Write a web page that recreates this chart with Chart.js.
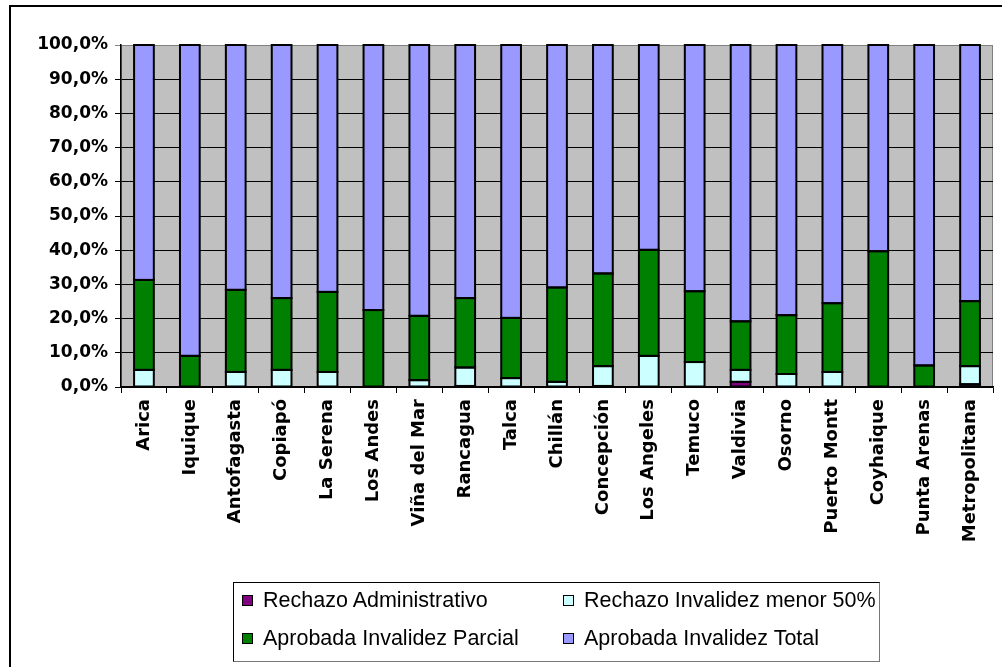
<!DOCTYPE html>
<html>
<head>
<meta charset="utf-8">
<script src="https://cdn.jsdelivr.net/npm/chart.js@4/dist/chart.umd.min.js"></script>
<style>
  html, body { margin: 0; padding: 0; background: #fff; overflow: hidden; width: 1002px; height: 667px; }
  #frame { position: absolute; left: 9px; top: 5px; width: 1100px; height: 800px; border: 2px solid #000; }
  #chart { position: absolute; left: 0; top: 0; }
  #legend {
    position: absolute; left: 233px; top: 582px; width: 645px; height: 78px;
    border: 1px solid #000; border-right-color: #777; border-bottom-color: #777;
    font-family: "Liberation Sans", Arial, sans-serif; font-size: 21.5px; color: #000;
  }
  .item { position: absolute; display: flex; align-items: center; white-space: nowrap; height: 24px; }
  .box { width: 9px; height: 9px; border: 1.5px solid #000; margin-right: 10px; }
</style>
</head>
<body>
<div id="frame"></div>
<canvas id="chart" width="1002" height="667"></canvas>
<div id="legend"></div>
<script>
const categories = ['Arica', 'Iquique', 'Antofagasta', 'Copiapó', 'La Serena', 'Los Andes', 'Viña del Mar',
    'Rancagua', 'Talca', 'Chillán', 'Concepción', 'Los Angeles', 'Temuco', 'Valdivia', 'Osorno',
    'Puerto Montt', 'Coyhaique', 'Punta Arenas', 'Metropolitana'];

const rechazoAdministrativo = [0, 0, 0, 0, 0, 0, 0, 0.3, 0, 0, 0.3, 0, 0, 1.5, 0, 0, 0, 0, 0.8];
const rechazoMenor50 = [5.0, 0, 4.4, 5.0, 4.4, 0, 2.0, 5.4, 2.6, 1.5, 5.8, 9.1, 7.3, 3.5, 3.8, 4.4, 0, 0, 5.3];
const aprobadaParcial = [26.3, 9.1, 24.0, 21.0, 23.4, 22.5, 18.8, 20.3, 17.6, 27.6, 27.1, 31.0, 20.7, 14.2, 17.2, 20.1, 39.7, 6.3, 19.0];
const aprobadaTotal = [68.7, 90.9, 71.6, 74.0, 72.2, 77.5, 79.2, 74.0, 79.8, 70.9, 66.8, 59.9, 72.0, 80.8, 79.0, 75.5, 60.3, 93.7, 74.9];

const yTicks = [0, 10, 20, 30, 40, 50, 60, 70, 80, 90, 100];

const series = [
    { label: 'Rechazo Administrativo', data: rechazoAdministrativo, color: '#800080' },
    { label: 'Rechazo Invalidez menor 50%', data: rechazoMenor50, color: '#CCFFFF' },
    { label: 'Aprobada Invalidez Parcial', data: aprobadaParcial, color: '#008000' },
    { label: 'Aprobada Invalidez Total', data: aprobadaTotal, color: '#9999FF' }
];

const plotBackground = {
    id: 'plotBackground',
    beforeDraw(chart) {
        const { ctx, chartArea: a } = chart;
        ctx.save();
        ctx.fillStyle = '#C0C0C0';
        ctx.fillRect(a.left, a.top, a.right - a.left, a.bottom - a.top);
        ctx.strokeStyle = '#808080';
        ctx.lineWidth = 1;
        ctx.strokeRect(a.left + 0.5, a.top + 0.5, a.right - a.left - 1, a.bottom - a.top);
        ctx.restore();
    }
};

// black outline on every segment, centred on its edges so stacked segments share one line
const segmentOutline = {
    id: 'segmentOutline',
    afterDatasetsDraw(chart) {
        const ctx = chart.ctx;
        ctx.save();
        ctx.strokeStyle = '#000';
        ctx.lineWidth = 2;
        chart.data.datasets.forEach((ds, i) => {
            chart.getDatasetMeta(i).data.forEach((bar, j) => {
                if (!(ds.data[j] > 0)) return;
                const { x, y, base, width } = bar.getProps(['x', 'y', 'base', 'width'], true);
                ctx.strokeRect(x - width / 2, y, width, base - y);
            });
        });
        ctx.restore();
    }
};

const yFont = { family: '"DejaVu Sans", Arial, sans-serif', size: 17, weight: 'bold' };
const xFont = { family: '"DejaVu Sans", Arial, sans-serif', size: 18, weight: 'bold' };

new Chart(document.getElementById('chart'), {
    type: 'bar',
    data: {
        labels: categories,
        datasets: series.map(s => ({
            label: s.label,
            data: s.data,
            backgroundColor: s.color,
            borderWidth: 0,
            barPercentage: 0.43,
            categoryPercentage: 1
        }))
    },
    options: {
        responsive: false,
        animation: false,
        layout: { padding: { left: 0, top: 45, right: 9, bottom: 0 } },
        plugins: {
            legend: { display: false },
            tooltip: { enabled: false }
        },
        scales: {
            x: {
                stacked: true,
                afterFit: scale => { scale.height = 280; },
                grid: { offset: true, drawOnChartArea: false, tickLength: 6, color: '#000' },
                border: { color: '#000', width: 1.5 },
                ticks: {
                    font: xFont, color: '#000', padding: 6,
                    minRotation: 90, maxRotation: 90, autoSkip: false
                }
            },
            y: {
                stacked: true,
                min: 0,
                max: 100,
                afterFit: scale => { scale.width = 121; },
                afterBuildTicks: scale => { scale.ticks = yTicks.map(v => ({ value: v })); },
                grid: {
                    color: c => (c.tick && c.tick.value === 100 ? '#808080' : '#000'),
                    lineWidth: 1,
                    tickLength: 6
                },
                border: { color: '#000', width: 1.5 },
                ticks: {
                    font: yFont, color: '#000', padding: 7,
                    callback: v => v.toFixed(1).replace('.', ',') + '%'
                }
            }
        }
    },
    plugins: [plotBackground, segmentOutline]
});

// two-column legend like the original
const legend = document.getElementById('legend');
const legendSlots = [
    { s: series[0], left: 8, top: 5 },
    { s: series[1], left: 329, top: 5 },
    { s: series[2], left: 8, top: 43 },
    { s: series[3], left: 329, top: 43 }
];
legendSlots.forEach(({ s, left, top }) => {
    const item = document.createElement('div');
    item.className = 'item';
    item.style.left = left + 'px';
    item.style.top = top + 'px';
    item.innerHTML = `<span class="box" style="background:${s.color}"></span><span>${s.label}</span>`;
    legend.appendChild(item);
});
</script>
</body>
</html>
